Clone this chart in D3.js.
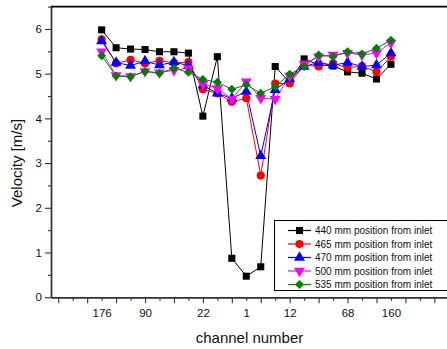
<!DOCTYPE html>
<html>
<head>
<meta charset="utf-8">
<script src="https://cdn.jsdelivr.net/npm/d3@7"></script>
<style>
body{margin:0;background:#fff;}
svg{display:block;font-family:"Liberation Sans",Arial,sans-serif;}
</style>
</head>
<body>
<svg id="chart"></svg>
<script>
var w=447;
var h=349;

// point index along the channel row (1..21)
var pointIdx=d3.range(1,22);
var tickPos=[1,4,8,11,14,18,21];
var tickLabels=["176","90","22","1","12","68","160"];

var v440=[5.98,5.58,5.55,5.54,5.49,5.49,5.46,4.05,5.38,0.87,0.47,0.68,5.16,4.80,5.33,5.20,5.17,5.04,5.01,4.88,5.21];
var v465=[5.77,5.23,5.31,5.23,5.29,5.24,5.26,4.65,4.56,4.37,4.45,2.72,4.78,4.78,5.19,5.16,5.23,5.13,5.17,5.04,5.38];
var v470=[5.73,5.25,5.18,5.28,5.19,5.26,5.18,4.74,4.56,4.45,4.60,3.16,4.64,4.88,5.16,5.25,5.19,5.25,5.16,5.19,5.46];
var v500=[5.49,4.96,4.94,5.05,5.02,5.08,5.12,4.77,4.67,4.43,4.82,4.45,4.43,4.95,5.22,5.38,5.42,5.46,5.42,5.46,5.69];
var v535=[5.40,4.95,4.93,5.05,5.01,5.12,5.03,4.87,4.81,4.65,4.75,4.56,4.71,4.99,5.16,5.42,5.38,5.49,5.44,5.57,5.75];

var seriesNames=["440 mm position from inlet","465 mm position from inlet","470 mm position from inlet","500 mm position from inlet","535 mm position from inlet"];

var series=[
  {name:seriesNames[0],values:v440,color:"#000000",shape:"square"},
  {name:seriesNames[1],values:v465,color:"#ff0000",shape:"circle"},
  {name:seriesNames[2],values:v470,color:"#0000ff",shape:"up"},
  {name:seriesNames[3],values:v500,color:"#ff00ff",shape:"down"},
  {name:seriesNames[4],values:v535,color:"#008000",shape:"diamond"}
];

var svg=d3.select("#chart").attr("width",w).attr("height",h);

var xScale=d3.scaleLinear().domain([-2.5,25]).range([51,448.8]);
var yScale=d3.scaleLinear().domain([0,6.5]).range([297.2,6.6]);

function marker(sel,shape,color){
  var p;
  if(shape=="square") p=d3.symbol(d3.symbolSquare,50);
  else if(shape=="circle") p=d3.symbol(d3.symbolCircle,52);
  else if(shape=="diamond") p=d3.symbol(d3.symbolSquare,40);
  else p=d3.symbol(d3.symbolTriangle,52);
  var rot=null;
  if(shape=="down") rot="rotate(180)";
  if(shape=="diamond") rot="rotate(45)";
  sel.append("path")
     .attr("d",p())
     .attr("fill",color)
     .attr("transform",rot);
}

// axes
var xMajor=d3.axisBottom(xScale).tickValues(d3.range(-2,25,2)).tickSize(6).tickSizeOuter(0).tickFormat("");
var xMinor=d3.axisBottom(xScale).tickValues(d3.range(-1,25,2)).tickSize(3.5).tickSizeOuter(0).tickFormat("");
var xLab=d3.axisBottom(xScale).tickValues(tickPos).tickSize(0).tickPadding(12)
           .tickFormat(function(d,i){return tickLabels[i];});
var yMajor=d3.axisLeft(yScale).tickValues(d3.range(0,7)).tickSize(6).tickSizeOuter(0).tickPadding(3)
           .tickFormat(d3.format("d"));
var yMinor=d3.axisLeft(yScale).tickValues(d3.range(0.5,7,1)).tickSize(3).tickSizeOuter(0).tickFormat("");

svg.append("g").attr("transform","translate(0,297.2)").call(xMinor);
svg.append("g").attr("transform","translate(0,297.2)").call(xMajor);
svg.append("g").attr("class","xlab").attr("transform","translate(0,297.2)").call(xLab);
svg.append("g").attr("transform","translate(51,0)").call(yMinor);
svg.append("g").attr("class","ylab").attr("transform","translate(51,0)").call(yMajor);

svg.selectAll(".domain").attr("stroke","#333").attr("stroke-width",1.4);
svg.selectAll(".tick line").attr("stroke","#333").attr("stroke-width",1.1);
svg.selectAll(".xlab .domain").remove();
svg.selectAll(".xlab text,.ylab text").attr("font-size","11.5px").attr("fill","#111")
   .attr("font-family","Liberation Sans,Arial,sans-serif");

// top border
svg.append("line")
   .attr("x1",51).attr("x2",449).attr("y1",6.6).attr("y2",6.6)
   .attr("stroke","#000").attr("stroke-width",1.6);

// lines and markers
var line=d3.line()
           .x(function(d,i){return xScale(pointIdx[i]);})
           .y(function(d){return yScale(d);});

series.forEach(function(s){
  svg.append("path")
     .datum(s.values)
     .attr("d",line)
     .attr("fill","none")
     .attr("stroke",s.color)
     .attr("stroke-width",1);
});
series.forEach(function(s){
  s.values.forEach(function(v,i){
    var g=svg.append("g").attr("transform","translate("+xScale(pointIdx[i])+","+yScale(v)+")");
    marker(g,s.shape,s.color);
  });
});

// legend
var leg=svg.append("g");
leg.append("rect")
   .attr("x",274.5).attr("y",220.5).attr("width",180).attr("height",70)
   .attr("fill","#fff").attr("stroke","#000").attr("stroke-width",1);
series.forEach(function(s,i){
  var yy=230.5+13.5*i;
  leg.append("line").attr("x1",288).attr("x2",311).attr("y1",yy).attr("y2",yy)
     .attr("stroke",s.color).attr("stroke-width",1.2);
  var g=leg.append("g").attr("transform","translate(299.5,"+yy+")");
  marker(g,s.shape,s.color);
  leg.append("text").attr("x",315).attr("y",yy).attr("dy","0.35em")
     .attr("font-size","10px").attr("fill","#111").text(s.name);
});

// axis titles
svg.append("text")
   .attr("x",249.5).attr("y",338).attr("dy","0.35em")
   .attr("text-anchor","middle").attr("font-size","15px").attr("fill","#111")
   .text("channel number");
svg.append("text")
   .attr("transform","translate(17,163) rotate(-90)")
   .attr("dy","0.35em")
   .attr("text-anchor","middle").attr("font-size","15px").attr("fill","#111")
   .text("Velocity [m/s]");
</script>
</body>
</html>
